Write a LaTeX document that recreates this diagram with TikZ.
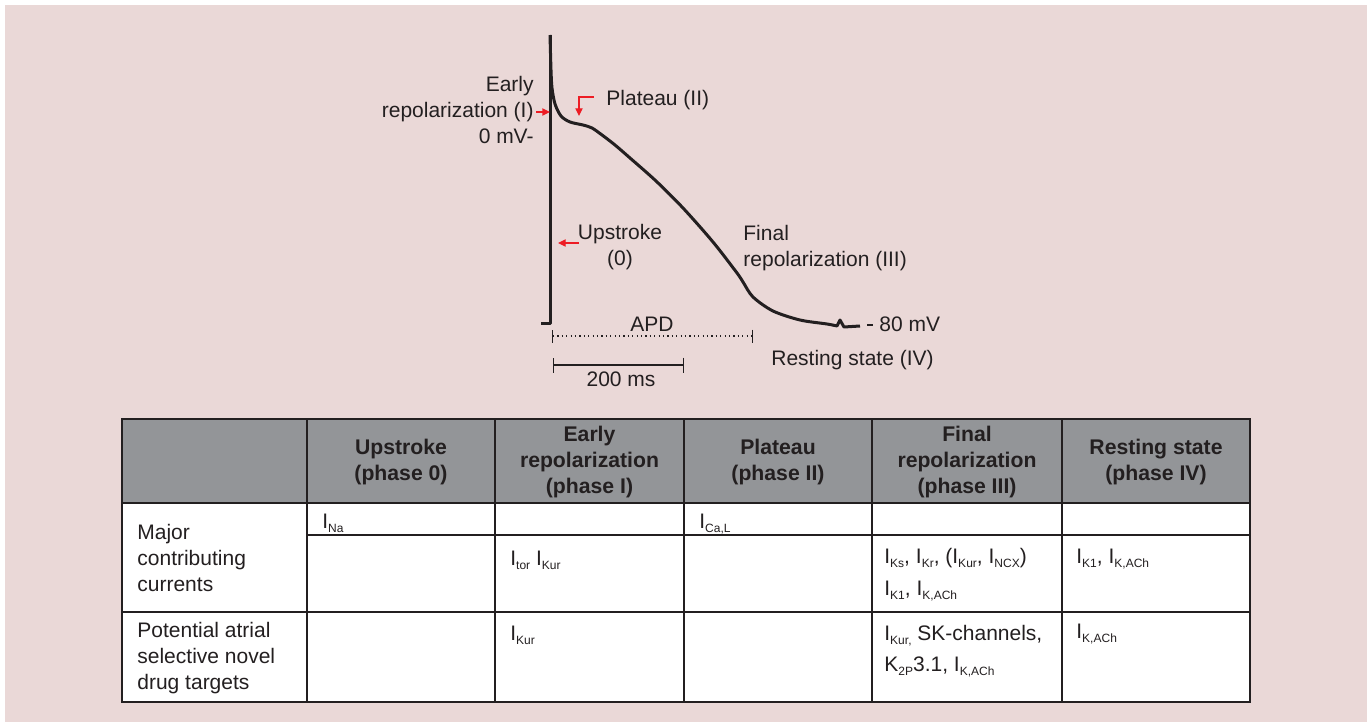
\documentclass[tikz,border=0pt]{standalone}
\usepackage{fontspec}
\setmainfont{Liberation Sans}
\usetikzlibrary{arrows.meta,positioning}
\definecolor{bgpink}{HTML}{EAD8D7}
\definecolor{hdrgrey}{HTML}{939598}
\definecolor{inkdark}{HTML}{231F20}
\definecolor{markred}{HTML}{ED1C24}
\newcommand{\subtxt}[1]{\raisebox{-2.2pt}{\fontsize{6}{6.5}\selectfont #1}}
\newcommand{\Icur}[1]{I\subtxt{#1}}
\tikzstyle{lbl} = [inner sep=0pt, text=inkdark, font={\fontsize{10.5}{13}\selectfont}]
\tikzstyle{head} = [inner sep=0pt, text=inkdark, align=center, font={\fontsize{10.6}{13.2}\selectfont\bfseries}]
\tikzstyle{cellval} = [lbl, anchor=base west]
\tikzstyle{trace} = [inkdark, line width=1.5pt, line join=round]
\tikzstyle{redarrow} = [markred, line width=0.6pt, -{Triangle[length=3.8pt,width=3.6pt]}]
\tikzstyle{scalebar} = [inkdark, line width=0.6pt]
\tikzstyle{grid} = [inkdark, line width=0.8pt]
\begin{document}
\begin{tikzpicture}[x=0.5pt, y=-0.5pt]
\useasboundingbox (0,0) rectangle (1371,722);
\fill[bgpink] (5,5) rectangle (1367,722);

\draw[trace] (541,323) -- (550,323) -- (550,35);
\draw[trace] plot[smooth, tension=0.5] coordinates {(550,35) (551,70) (552,88) (555,104) (561,116) (570,122) (583,125) (592,128) (602,135) (615,145) (630,158) (656,181) (683,208) (713,242) (737,273) (743,282) (753,297) (773,311) (800,320) (827,324) (837,326)} -- (840,320) -- (844,327) -- (860,326);
\draw[trace, line width=1.3pt] (867,325) -- (873,325);

\node (earlylbl) [lbl, align=right, anchor=east] at (534,99) {Early\\repolarization (I)};
\node (zeromv) [lbl, anchor=base east] at (534,143) {0 mV-};
\node (platlbl) [lbl, anchor=base west] at (606,105) {Plateau (II)};
\node (uplbl) [lbl, align=center] at (620,247) {Upstroke\\(0)};
\node (finallbl) [lbl, align=left, anchor=west] at (743,248) {Final\\repolarization (III)};
\node (restmv) [lbl, anchor=base west] at (879,331) {80 mV};
\node (restlbl) [lbl, anchor=base west] at (771,365) {Resting state (IV)};

\coordinate (erTail) at (536,112);
\coordinate (erTip) at (550,112);
\coordinate (plTail) at (594,97);
\coordinate (plTip) at (579,116);
\coordinate (upTail) at (579,243);
\coordinate (upTip) at (558,243);
\draw[redarrow] (erTail) -- (erTip);
\draw[redarrow] (plTail) -| (plTip);
\draw[redarrow] (upTail) -- (upTip);

\coordinate (apdL) at (552,336);
\coordinate (apdR) at (753,336);
\draw[scalebar, dash pattern=on 0.6pt off 1.6pt, {Bar[width=6.5pt]}-{Bar[width=6.5pt]}] (apdL) -- (apdR);
\node (apdlbl) [lbl, anchor=base] at (652,331) {APD};
\coordinate (msL) at (553,365);
\coordinate (msR) at (684,365);
\draw[scalebar, {Bar[width=7.5pt]}-{Bar[width=7.5pt]}] (msL) -- (msR);
\node (mslbl) [lbl, anchor=base] at (621,386) {200 ms};

\fill[hdrgrey] (122,419) rectangle (1250,503);
\fill[white] (122,503) rectangle (1250,702);
\draw[grid] (122,419) rectangle (1250,702);
\draw[grid] (122,503) -- (1250,503) (307,535) -- (1250,535) (122,612) -- (1250,612);
\draw[grid] (307,419) -- (307,702) (495,419) -- (495,702) (684,419) -- (684,702) (872,419) -- (872,702) (1062,419) -- (1062,702);

\node (hupstroke) [head] at (401,462) {Upstroke\\(phase 0)};
\node (hearly) [head] at (589.5,462) {Early\\repolarization\\(phase I)};
\node (hplateau) [head] at (778,462) {Plateau\\(phase II)};
\node (hfinal) [head] at (967,462) {Final\\repolarization\\(phase III)};
\node (hresting) [head] at (1156,462) {Resting state\\(phase IV)};

\node (rowmajor) [lbl, align=left, anchor=west] at (137,558) {Major\\contributing\\currents};
\node (rowtarget) [lbl, align=left, anchor=west] at (137,658) {Potential atrial\\selective novel\\drug targets};

\node (ina) [cellval] at (322,528) {\Icur{Na}};
\node (ical) [cellval] at (699,528) {\Icur{Ca,L}};
\node (itokur) [cellval] at (510,565) {\Icur{tor} \Icur{Kur}};
\node (ifinala) [cellval] at (884,563) {\Icur{Ks}, \Icur{Kr}, (\Icur{Kur}, \Icur{NCX})};
\node (ifinalb) [cellval] at (884,595) {\Icur{K1}, \Icur{K,ACh}};
\node (irest) [cellval] at (1076,563) {\Icur{K1}, \Icur{K,ACh}};
\node (tkur) [cellval] at (510,640) {\Icur{Kur}};
\node (tfinala) [cellval] at (884,640) {\Icur{Kur,} SK-channels,};
\node (tfinalb) [cellval] at (884,671) {K\subtxt{2P}3.1, \Icur{K,ACh}};
\node (trest) [cellval] at (1076,638) {\Icur{K,ACh}};
\end{tikzpicture}
\end{document}
